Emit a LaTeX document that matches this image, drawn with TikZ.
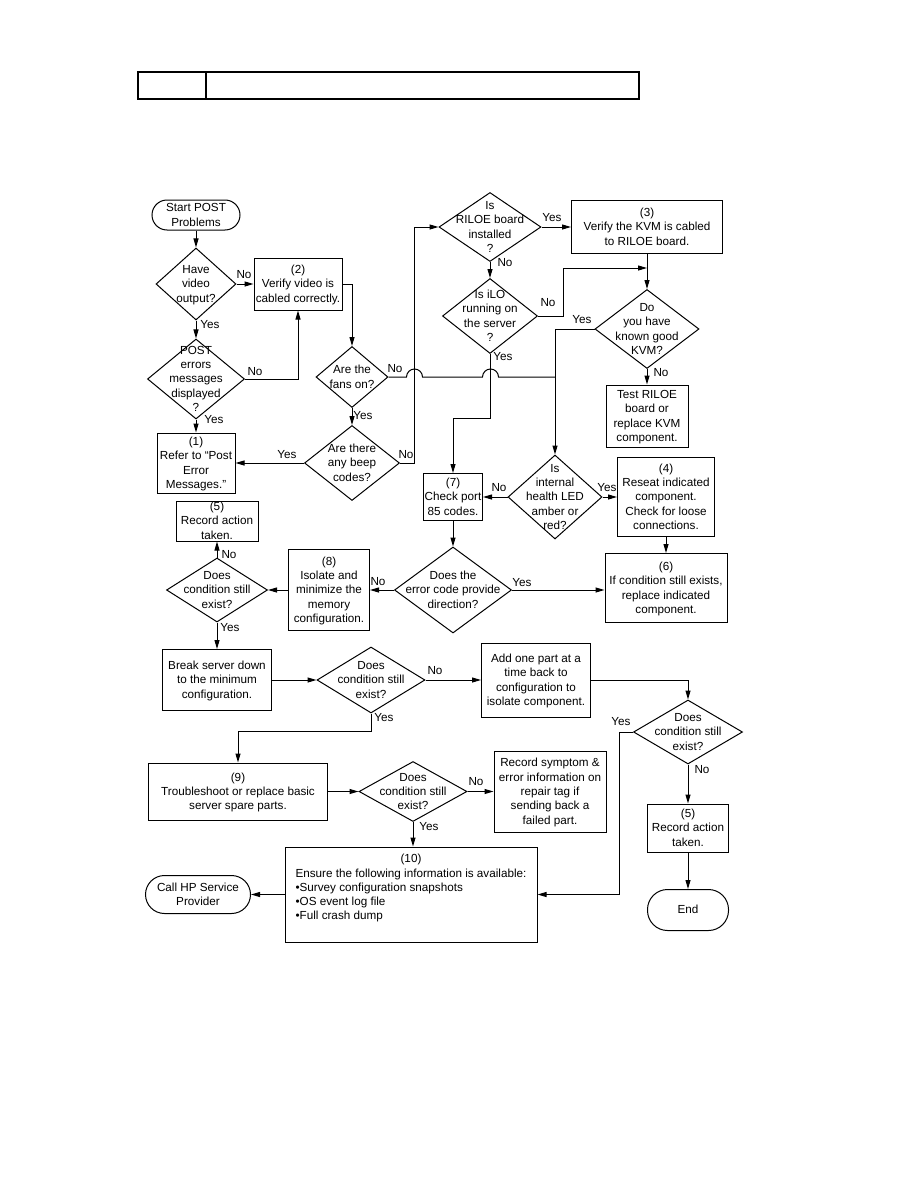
\documentclass[tikz,border=0pt]{standalone}
\usepackage{fontspec}
\setmainfont{Liberation Sans}
\usetikzlibrary{arrows.meta,shapes.geometric}

\newcommand{\fctext}[2][c]{\smash{\makebox[0pt]{\raisebox{-0.35em}{\begin{tabular}{@{}#1@{}}#2\end{tabular}}}}}

\begin{document}
\begin{tikzpicture}[x=1pt,y=-1pt,line width=1pt,>={Triangle[length=9pt,width=5pt]},
  font=\fontsize{11.7}{14.3}\selectfont,
  caja/.style={draw,rectangle,inner sep=0pt},
  rombo/.style={draw,diamond,inner sep=0pt},
  term/.style={draw,rectangle,rounded corners=15pt,inner sep=0pt},
  etiq/.style={inner sep=0pt}]
  \useasboundingbox (0,0) rectangle (918,1188);
  % encabezado
  \draw[line width=1.6pt] (138,72) rectangle (639,99);
  \draw[line width=1.6pt] (206,72) -- (206,99);
  % columna izquierda
  \node[term,minimum width=88,minimum height=30] (inicio) at (196,215) {\fctext{Start POST\\Problems}};
  \node[rombo,minimum width=80,minimum height=72] (video) at (196,284) {\fctext{Have\\video\\output?}};
  \node[caja,minimum width=88,minimum height=52] (caja2) at (298,284) {\fctext{(2)\\Verify video is\\cabled correctly.}};
  \node[rombo,minimum width=97,minimum height=80] (posterr) at (196,379) {\fctext{POST\\errors\\messages\\displayed\\?}};
  \node[caja,minimum width=78,minimum height=60] (caja1) at (196,463) {\fctext{(1)\\Refer to “Post\\Error\\Messages.”}};
  \node[rombo,minimum width=72,minimum height=61] (fans) at (352,377) {\fctext{Are the\\fans on?}};
  \node[rombo,minimum width=95,minimum height=75] (beep) at (352,463) {\fctext{Are there\\any beep\\codes?}};
  % RILOE / iLO
  \node[rombo,minimum width=102,minimum height=69] (riloe) at (490,227) {\fctext{Is\\RILOE board\\installed\\?}};
  \node[caja,minimum width=151,minimum height=53] (caja3) at (647,227) {\fctext{(3)\\Verify the KVM is cabled\\to RILOE board.}};
  \node[rombo,minimum width=95,minimum height=75] (ilo) at (490,316) {\fctext{Is iLO\\running on\\the server\\?}};
  \node[rombo,minimum width=104,minimum height=79] (kvm) at (647,329) {\fctext{Do\\you have\\known good\\KVM?}};
  \node[caja,minimum width=82,minimum height=62] (probar) at (647,416) {\fctext{Test RILOE\\board or\\replace KVM\\component.}};
  \coordinate (union) at (647,268);
  % LED y puerto 85
  \node[caja,minimum width=59,minimum height=47] (puerto) at (453,497) {\fctext{(7)\\Check port\\85 codes.}};
  \node[rombo,minimum width=94,minimum height=84] (salud) at (555,497) {\fctext{Is\\internal\\health LED\\amber or\\red?}};
  \node[caja,minimum width=97,minimum height=79] (caja4) at (666,497) {\fctext{(4)\\Reseat indicated\\component.\\Check for loose\\connections.}};
  \node[caja,minimum width=122,minimum height=69] (caja6) at (666,588) {\fctext{(6)\\If condition still exists,\\replace indicated\\component.}};
  \node[rombo,minimum width=117,minimum height=86] (error) at (453,590) {\fctext{Does the\\error code provide\\direction?}};
  % memoria
  \node[caja,minimum width=81,minimum height=81] (caja8) at (329,590) {\fctext{(8)\\Isolate and\\minimize the\\memory\\configuration.}};
  \node[rombo,minimum width=101,minimum height=64] (cond1) at (217,590) {\fctext{Does\\condition still\\exist?}};
  \node[caja,minimum width=82,minimum height=40] (caja5a) at (217,521) {\fctext{(5)\\Record action\\taken.}};
  \node[caja,minimum width=109,minimum height=61] (desarmar) at (217,680) {\fctext{Break server down\\to the minimum\\configuration.}};
  \node[rombo,minimum width=108,minimum height=66] (cond2) at (371,680) {\fctext{Does\\condition still\\exist?}};
  \node[caja,minimum width=109,minimum height=74] (agregar) at (536,680) {\fctext{Add one part at a\\time back to\\configuration to\\isolate component.}};
  \node[rombo,minimum width=109,minimum height=64] (cond4) at (688,732) {\fctext{Does\\condition still\\exist?}};
  \node[caja,minimum width=81,minimum height=48] (caja5b) at (688,828) {\fctext{(5)\\Record action\\taken.}};
  \node[term,rounded corners=20pt,minimum width=81,minimum height=41] (fin) at (688,910) {\fctext{End}};
  % repuestos
  \node[caja,minimum width=179,minimum height=57] (caja9) at (238,791.5) {\fctext{(9)\\Troubleshoot or replace basic\\server spare parts.}};
  \node[rombo,minimum width=108,minimum height=60] (cond3) at (413,791.5) {\fctext{Does\\condition still\\exist?}};
  \node[caja,minimum width=112,minimum height=81] (sintoma) at (550,791.5) {\fctext{Record symptom \&\\error information on\\repair tag if\\sending back a\\failed part.}};
  \node[caja,minimum width=252,minimum height=95] (caja10) at (411,894.5) {\fctext[l]{\multicolumn{1}{@{}c@{}}{(10)}\\Ensure the following information is available:\\•Survey configuration snapshots\\•OS event log file\\•Full crash dump\\ \mbox{}}};
  \node[term,rounded corners=19pt,minimum width=105,minimum height=38] (hp) at (198,894.5) {\fctext{Call HP Service\\Provider}};

  % flechas
  \draw[->] (inicio) -- (video);
  \draw[->] (video) -- (caja2);
  \draw[->] (video) -- (posterr);
  \draw[->] (posterr.east) -| (caja2.south);
  \draw[->] (posterr) -- (caja1);
  \draw[->] (caja2.east) -| (fans.north);
  \draw[->] (fans) -- (beep);
  \draw[->] (beep) -- (caja1);
  \draw[->] (beep.east) -- ++(14,0) |- (riloe.west);
  \draw[->] (riloe) -- (caja3);
  \draw[->] (riloe) -- (ilo);
  \draw[->] (ilo.east) -- ++(25,0) |- (union);
  \draw[->] (caja3) -- (kvm);
  \draw[->] (kvm) -- (probar);
  \draw[->] (kvm.west) -| (salud.north);
  \draw (fans.east) -- ++(18,0) arc[start angle=180,end angle=0,radius=8pt]
    -- ++(60,0) arc[start angle=180,end angle=0,radius=8pt] -- (salud.north |- fans.east);
  \draw[->] (ilo.south) -- ++(0,64) -| (puerto.north);
  \draw[->] (salud) -- (puerto);
  \draw[->] (salud) -- (caja4);
  \draw[->] (caja4) -- (caja6);
  \draw[->] (puerto) -- (error);
  \draw[->] (error.east) -- (error.east -| caja6.west);
  \draw[->] (error) -- (caja8);
  \draw[->] (caja8) -- (cond1);
  \draw[->] (cond1) -- (caja5a);
  \draw[->] (cond1) -- (desarmar);
  \draw[->] (desarmar) -- (cond2);
  \draw[->] (cond2) -- (agregar);
  \draw[->] (cond2.south) -- ++(0,18) -| (caja9.north);
  \draw[->] (agregar.east) -| (cond4.north);
  \draw[->] (cond4.west) -- ++(-14,0) |- (caja10.east);
  \draw[->] (cond4) -- (caja5b);
  \draw[->] (caja5b) -- (fin);
  \draw[->] (caja9) -- (cond3);
  \draw[->] (cond3) -- (sintoma);
  \draw[->] (cond3.south) -- (cond3.south |- caja10.north);
  \draw[->] (caja10) -- (hp);

  % etiquetas si/no
  \node[etiq] (l1) at (244,275) {No};
  \node[etiq] (l2) at (210,325) {Yes};
  \node[etiq] (l3) at (255,372) {No};
  \node[etiq] (l4) at (214,420) {Yes};
  \node[etiq] (l5) at (395,369) {No};
  \node[etiq] (l6) at (363,416) {Yes};
  \node[etiq] (l7) at (287,455) {Yes};
  \node[etiq] (l8) at (406,455) {No};
  \node[etiq] (l9) at (552,218) {Yes};
  \node[etiq] (l10) at (505,263) {No};
  \node[etiq] (l11) at (548,303) {No};
  \node[etiq] (l12) at (503,357) {Yes};
  \node[etiq] (l13) at (582,320) {Yes};
  \node[etiq] (l14) at (661,373) {No};
  \node[etiq] (l15) at (499,488) {No};
  \node[etiq] (l16) at (607,488) {Yes};
  \node[etiq] (l17) at (522,583) {Yes};
  \node[etiq] (l18) at (378,582) {No};
  \node[etiq] (l19) at (229,555) {No};
  \node[etiq] (l20) at (230,628) {Yes};
  \node[etiq] (l21) at (435,671) {No};
  \node[etiq] (l22) at (384,718) {Yes};
  \node[etiq] (l23) at (476,782) {No};
  \node[etiq] (l24) at (429,827) {Yes};
  \node[etiq] (l25) at (621,722) {Yes};
  \node[etiq] (l26) at (702,770) {No};
\end{tikzpicture}
\end{document}
